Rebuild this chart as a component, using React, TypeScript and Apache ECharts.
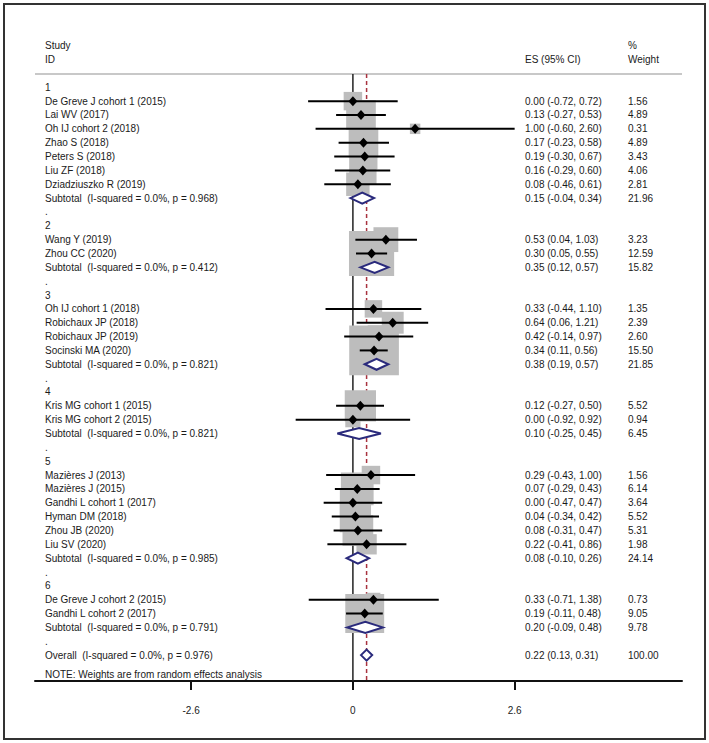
import React, { useEffect, useRef } from "react";
import * as echarts from "echarts";

// ---------- data ----------
const groupLabels = ["1", "2", "3", "4", "5", "6"];

const studyNames = [
  "De Greve J cohort 1 (2015)", "Lai WV (2017)", "Oh IJ cohort 2 (2018)", "Zhao S (2018)",
  "Peters S (2018)", "Liu ZF (2018)", "Dziadziuszko R (2019)",
  "Wang Y (2019)", "Zhou CC (2020)",
  "Oh IJ cohort 1 (2018)", "Robichaux JP (2018)", "Robichaux JP (2019)", "Socinski MA (2020)",
  "Kris MG cohort 1 (2015)", "Kris MG cohort 2 (2015)",
  "Mazières J (2013)", "Mazières J (2015)", "Gandhi L cohort 1 (2017)", "Hyman DM (2018)",
  "Zhou JB (2020)", "Liu SV (2020)",
  "De Greve J cohort 2 (2015)", "Gandhi L cohort 2 (2017)",
];
const studyGroup = [0, 0, 0, 0, 0, 0, 0, 1, 1, 2, 2, 2, 2, 3, 3, 4, 4, 4, 4, 4, 4, 5, 5];
const studyES = [0.0, 0.13, 1.0, 0.17, 0.19, 0.16, 0.08, 0.53, 0.3, 0.33, 0.64, 0.42, 0.34, 0.12, 0.0, 0.29, 0.07, 0.0, 0.04, 0.08, 0.22, 0.33, 0.19];
const studyLo = [-0.72, -0.27, -0.6, -0.23, -0.3, -0.29, -0.46, 0.04, 0.05, -0.44, 0.06, -0.14, 0.11, -0.27, -0.92, -0.43, -0.29, -0.47, -0.34, -0.31, -0.41, -0.71, -0.11];
const studyHi = [0.72, 0.53, 2.6, 0.58, 0.67, 0.6, 0.61, 1.03, 0.55, 1.1, 1.21, 0.97, 0.56, 0.5, 0.92, 1.0, 0.43, 0.47, 0.42, 0.47, 0.86, 1.38, 0.48];
const studyWeight = [1.56, 4.89, 0.31, 4.89, 3.43, 4.06, 2.81, 3.23, 12.59, 1.35, 2.39, 2.6, 15.5, 5.52, 0.94, 1.56, 6.14, 3.64, 5.52, 5.31, 1.98, 0.73, 9.05];

const groupES = [0.15, 0.35, 0.38, 0.1, 0.08, 0.2];
const groupLo = [-0.04, 0.12, 0.19, -0.25, -0.1, -0.09];
const groupHi = [0.34, 0.57, 0.57, 0.45, 0.26, 0.48];
const groupWeight = [21.96, 15.82, 21.85, 6.45, 24.14, 9.78];
const groupI2 = ["0.0", "0.0", "0.0", "0.0", "0.0", "0.0"];
const groupP = ["0.968", "0.412", "0.821", "0.821", "0.985", "0.791"];

const overallES = 0.22;
const overallLo = 0.13;
const overallHi = 0.31;
const overallWeight = 100.0;
const overallI2 = "0.0";
const overallP = "0.976";

const tickValues = [-2.6, 0, 2.6];
const tickLabels = ["-2.6", "0", "2.6"];

// ---------- rows ----------
type Row = { kind: string; label: string; es?: number; lo?: number; hi?: number; w?: number };
const rows: Row[] = [];
groupLabels.forEach((g, gi) => {
  rows.push({ kind: "group", label: g });
  studyNames.forEach((n, si) => {
    if (studyGroup[si] === gi) {
      rows.push({ kind: "study", label: n, es: studyES[si], lo: studyLo[si], hi: studyHi[si], w: studyWeight[si] });
    }
  });
  rows.push({
    kind: "subtotal",
    label: `Subtotal  (I-squared = ${groupI2[gi]}%, p = ${groupP[gi]})`,
    es: groupES[gi], lo: groupLo[gi], hi: groupHi[gi], w: groupWeight[gi],
  });
  rows.push({ kind: "dot", label: "." });
});
rows.push({
  kind: "overall",
  label: `Overall  (I-squared = ${overallI2}%, p = ${overallP})`,
  es: overallES, lo: overallLo, hi: overallHi, w: overallWeight,
});

const FONT = '"Liberation Sans", Arial, Helvetica, sans-serif';
const TEXT = "#1a1a1a";
const Y_MIN = -0.96;
const Y_MAX = 42.87;

export default function App() {
  const ref = useRef<HTMLDivElement>(null);
  useEffect(() => {
    if (!ref.current) return;
    const chart = echarts.init(ref.current, undefined, { renderer: "svg" });

    const studyRows = rows.map((r, i) => ({ r, i })).filter((x) => x.r.kind === "study");
    const diamondRows = rows.map((r, i) => ({ r, i })).filter((x) => x.r.kind === "subtotal" || x.r.kind === "overall");

    const option: any = {
      animation: false,
      backgroundColor: "#fff",
      grid: { left: 35, right: 27, top: 74, bottom: 62 },
      xAxis: {
        type: "value",
        min: -5.11,
        max: 5.29,
        splitLine: { show: false },
        axisLine: { show: true, onZero: false, lineStyle: { color: "#111", width: 2 } },
        axisTick: { show: true, customValues: tickValues, length: 9, lineStyle: { color: "#111", width: 2 } },
        axisLabel: {
          customValues: tickValues,
          formatter: (v: number) => tickLabels[tickValues.indexOf(v)] ?? String(v),
          margin: 24,
          fontSize: 10,
          color: "#222",
          fontFamily: FONT,
        },
      },
      yAxis: { type: "value", inverse: true, min: Y_MIN, max: Y_MAX, show: false },
      series: [
        {
          type: "custom",
          z: 1,
          clip: false,
          data: [
            [0, Y_MIN, Y_MAX, 0],
            [overallES, Y_MIN, Y_MAX, 1],
          ],
          renderItem: (params: any, api: any) => {
            const p1 = api.coord([api.value(0), api.value(1)]);
            const p2 = api.coord([api.value(0), api.value(2)]);
            const dashed = api.value(3) === 1;
            return {
              type: "line",
              shape: { x1: p1[0], y1: p1[1], x2: p2[0], y2: p2[1] },
              style: dashed
                ? { stroke: "#a8323e", lineWidth: 1.5, lineDash: [4, 3] }
                : { stroke: "#222", lineWidth: 1.5 },
            };
          },
        },
        {
          type: "custom",
          z: 2,
          clip: false,
          data: studyRows.map((x) => [x.r.es, x.i, x.r.w]),
          renderItem: (params: any, api: any) => {
            const c = api.coord([api.value(0), api.value(1)]);
            const s = 4 + 11.6 * Math.sqrt(api.value(2));
            return {
              type: "rect",
              shape: { x: c[0] - s / 2, y: c[1] - s / 2, width: s, height: s },
              style: { fill: "#bdbdbd" },
            };
          },
        },
        {
          type: "custom",
          z: 3,
          clip: false,
          data: studyRows.map((x) => [x.r.es, x.i, x.r.lo, x.r.hi]),
          renderItem: (params: any, api: any) => {
            const c = api.coord([api.value(0), api.value(1)]);
            const a = api.coord([api.value(2), api.value(1)]);
            const b = api.coord([api.value(3), api.value(1)]);
            return {
              type: "group",
              children: [
                {
                  type: "line",
                  shape: { x1: a[0], y1: a[1], x2: b[0], y2: b[1] },
                  style: { stroke: "#000", lineWidth: 2 },
                },
                {
                  type: "polygon",
                  shape: {
                    points: [
                      [c[0] - 4.5, c[1]],
                      [c[0], c[1] - 5],
                      [c[0] + 4.5, c[1]],
                      [c[0], c[1] + 5],
                    ],
                  },
                  style: { fill: "#000" },
                },
              ],
            };
          },
        },
        {
          type: "custom",
          z: 4,
          clip: false,
          data: diamondRows.map((x) => [x.r.es, x.i, x.r.lo, x.r.hi]),
          renderItem: (params: any, api: any) => {
            const c = api.coord([api.value(0), api.value(1)]);
            const a = api.coord([api.value(2), api.value(1)]);
            const b = api.coord([api.value(3), api.value(1)]);
            return {
              type: "polygon",
              shape: {
                points: [
                  [a[0], c[1]],
                  [c[0], c[1] - 5.5],
                  [b[0], c[1]],
                  [c[0], c[1] + 5.5],
                ],
              },
              style: { fill: "#fff", stroke: "#2a2a7c", lineWidth: 2 },
            };
          },
        },
        {
          type: "custom",
          z: 5,
          clip: false,
          data: rows.map((r, i) => [0, i]),
          renderItem: (params: any, api: any) => {
            const r = rows[params.dataIndex];
            const y = api.coord([0, api.value(1)])[1];
            const ts = (text: string, x: number) => ({
              type: "text",
              x,
              y,
              style: { text, fill: TEXT, fontSize: 10, fontFamily: FONT, align: "left", verticalAlign: "middle" },
            });
            const children: any[] = [ts(r.label, 45)];
            if (r.es !== undefined) {
              children.push(ts(`${r.es.toFixed(2)} (${r.lo!.toFixed(2)}, ${r.hi!.toFixed(2)})`, 525));
              children.push(ts(r.w!.toFixed(2), 628));
            }
            return { type: "group", children };
          },
        },
      ],
      graphic: [
        {
          type: "rect",
          shape: { x: 4, y: 4, width: 701, height: 735 },
          style: { fill: "none", stroke: "#333", lineWidth: 2 },
          z: 0,
        },
        {
          type: "line",
          shape: { x1: 35, y1: 74, x2: 682, y2: 74 },
          style: { stroke: "#c8c8c8", lineWidth: 2 },
        },
        { type: "text", x: 45, y: 45, style: { text: "Study", fill: TEXT, fontSize: 10, fontFamily: FONT, verticalAlign: "middle" } },
        { type: "text", x: 45, y: 59, style: { text: "ID", fill: TEXT, fontSize: 10, fontFamily: FONT, verticalAlign: "middle" } },
        { type: "text", x: 525, y: 59, style: { text: "ES (95% CI)", fill: TEXT, fontSize: 10, fontFamily: FONT, verticalAlign: "middle" } },
        { type: "text", x: 628, y: 45, style: { text: "%", fill: TEXT, fontSize: 10, fontFamily: FONT, verticalAlign: "middle" } },
        { type: "text", x: 628, y: 59, style: { text: "Weight", fill: TEXT, fontSize: 10, fontFamily: FONT, verticalAlign: "middle" } },
        {
          type: "text",
          x: 45,
          y: 674,
          style: { text: "NOTE: Weights are from random effects analysis", fill: TEXT, fontSize: 10, fontFamily: FONT, verticalAlign: "middle" },
        },
      ],
    };
    chart.setOption(option);
    return () => chart.dispose();
  }, []);
  return (
    <div
      ref={ref}
      style={{ position: "absolute", left: 0, top: 0, width: 709, height: 743, background: "#fff" }}
    />
  );
}
